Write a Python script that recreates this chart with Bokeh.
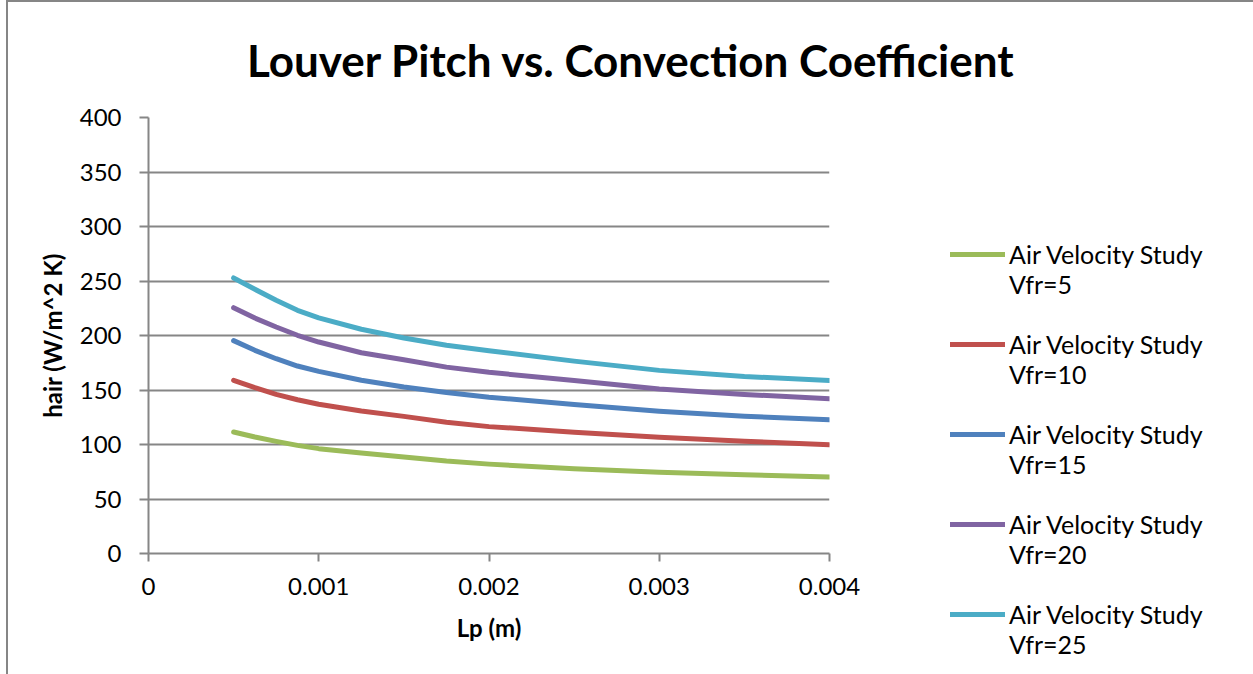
from bokeh.plotting import figure
from bokeh.models import (Legend, LegendItem, FixedTicker, Range1d,
                          CustomJSTickFormatter)
from bokeh.embed import file_html
from bokeh.resources import INLINE

# Louver pitch (m)
lp = [0.0005, 0.000625, 0.00075, 0.000875, 0.001, 0.00125, 0.0015, 0.00175,
      0.002, 0.0025, 0.003, 0.0035, 0.004]

# Air-side convection coefficient (W/m^2 K) for each frontal velocity
h_v5 = [111.5, 106.9, 102.9, 99.2, 96.2, 92.2, 88.5, 84.8,
        82.0, 77.7, 74.6, 72.2, 70.2]
h_v10 = [158.9, 152.1, 146.0, 141.1, 136.9, 130.7, 125.8, 120.5,
         116.4, 111.3, 106.7, 103.0, 99.8]
h_v15 = [195.3, 186.4, 178.7, 172.0, 167.1, 158.9, 152.8, 147.8,
         143.4, 136.7, 130.6, 126.0, 122.6]
h_v20 = [225.5, 216.0, 207.8, 200.2, 194.0, 184.2, 177.8, 171.0,
         166.2, 158.7, 151.0, 145.9, 142.0]
h_v25 = [252.8, 242.4, 232.3, 223.1, 216.1, 205.7, 197.7, 191.0,
         186.0, 176.5, 168.0, 162.4, 158.7]

series_names = ["Air Velocity Study\nVfr=5", "Air Velocity Study\nVfr=10",
                "Air Velocity Study\nVfr=15", "Air Velocity Study\nVfr=20",
                "Air Velocity Study\nVfr=25"]
series_values = [h_v5, h_v10, h_v15, h_v20, h_v25]
colors = ["#9BBB59", "#C0504D", "#4F81BD", "#8064A2", "#4BACC6"]

x_ticks = [0, 0.001, 0.002, 0.003, 0.004]
y_ticks = [0, 50, 100, 150, 200, 250, 300, 350, 400]

FONT = "Lato"
GRID = "#868686"

p = figure(frame_width=681, frame_height=436,
           output_backend="svg", toolbar_location=None,
           x_range=Range1d(0, 0.004), y_range=Range1d(0, 400),
           min_border_left=148, min_border_right=0,
           min_border_top=117, min_border_bottom=121)
p.outline_line_color = None
p.background_fill_color = "white"
p.border_fill_alpha = 0
# chart-area border: thin grey rule along the left and top edges
p.styles = {
    "background": ("linear-gradient(#868686, #868686) 6px 0 / 2px 100% no-repeat, "
                   "linear-gradient(#868686, #868686) 6px 0 / 100% 2px no-repeat, "
                   "white"),
}

renderers = []
for vals, col in zip(series_values, colors):
    r = p.line(lp, vals, line_color=col, line_width=5, line_cap="round",
               line_join="round")
    renderers.append(r)

# title
p.title.text = "Louver Pitch vs. Convection Coefficient"
p.title.text_font = FONT
p.title.text_font_style = "bold"
p.title.text_font_size = "44px"
p.title.text_color = "black"
p.title.align = "right"
p.title.offset = -186
p.title.standoff = 63

# axes
p.xaxis.ticker = FixedTicker(ticks=x_ticks)
p.yaxis.ticker = FixedTicker(ticks=y_ticks)
p.xaxis.formatter = CustomJSTickFormatter(code="return tick == 0 ? '0' : tick.toFixed(3);")
for ax in (p.xaxis[0], p.yaxis[0]):
    ax.axis_line_color = GRID
    ax.axis_line_width = 2
    ax.major_tick_line_color = GRID
    ax.major_tick_line_width = 2
    ax.major_tick_in = 0
    ax.minor_tick_line_color = None
    ax.major_label_text_font = FONT
    ax.major_label_text_font_size = "24px"
    ax.major_label_text_color = "black"
    ax.axis_label_text_font = FONT
    ax.axis_label_text_font_size = "24px"
    ax.axis_label_text_font_style = "bold"
    ax.axis_label_text_color = "black"
p.xaxis.major_tick_out = 8
p.yaxis.major_tick_out = 9
p.xaxis.major_label_standoff = 16
p.yaxis.major_label_standoff = 18
p.xaxis.axis_label = "Lp (m)"
p.yaxis.axis_label = "hair (W/m^2 K)"
p.xaxis.axis_label_standoff = 15
p.yaxis.axis_label_standoff = 10

p.xgrid.grid_line_color = None
p.ygrid.grid_line_color = GRID
p.ygrid.grid_line_width = 2

# legend: a blank leading line keeps each swatch level with the first text line
legend = Legend(items=[LegendItem(label=" \n" + n, renderers=[r])
                       for n, r in zip(series_names, renderers)],
                location=(121, -106), orientation="vertical",
                glyph_width=55, glyph_height=20, label_standoff=4,
                spacing=-17, padding=0, margin=0,
                label_text_font=FONT, label_text_font_size="25px",
                label_text_color="black", border_line_color=None,
                background_fill_alpha=0)
p.add_layout(legend, "right")

open("out.html", "w").write(file_html(p, INLINE))
